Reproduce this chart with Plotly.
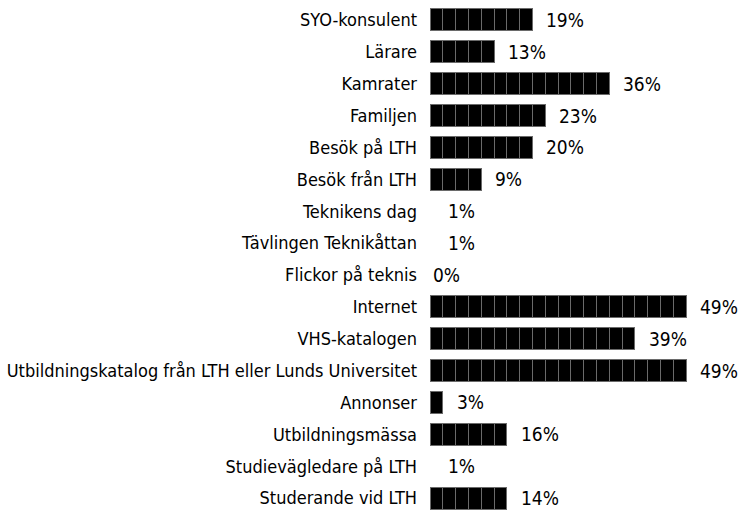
import plotly.graph_objects as go

categories = [
    "SYO-konsulent", "Lärare", "Kamrater", "Familjen", "Besök på LTH",
    "Besök från LTH", "Teknikens dag", "Tävlingen Teknikåttan", "Flickor på teknis",
    "Internet", "VHS-katalogen", "Utbildningskatalog från LTH eller Lunds Universitet",
    "Annonser", "Utbildningsmässa", "Studievägledare på LTH", "Studerande vid LTH",
]
values = [19, 13, 36, 23, 20, 9, 1, 1, 0, 49, 39, 49, 3, 16, 1, 14]
labels = [f"{v}%" for v in values]

BLOCK = 2.5  # percent represented by one block
blocks = [round(v / BLOCK) for v in values]
FONT = "DejaVu Sans Condensed, sans-serif"

fig = go.Figure()
for k in range(max(blocks)):
    fig.add_trace(go.Bar(
        y=categories,
        x=[BLOCK if b > k else None for b in blocks],
        orientation="h",
        marker=dict(color="#000000", line=dict(color="#6a6a6a", width=1)),
        hoverinfo="skip",
        showlegend=False,
    ))

for cat, v, b, lab in zip(categories, values, blocks, labels):
    if v == 0:
        shift = 1
    elif b == 0:
        shift = 16
    else:
        shift = 12
    fig.add_annotation(
        x=b * BLOCK, y=cat, text=lab, showarrow=False,
        xanchor="left", yanchor="middle", xshift=shift,
        font=dict(family=FONT, size=19, color="#000000"),
    )

plot_w = 741 - 430
fig.update_layout(
    width=741, height=514,
    margin=dict(l=430, r=0, t=4, b=0),
    barmode="stack", bargap=0.31,
    paper_bgcolor="white", plot_bgcolor="white",
    font=dict(family=FONT, size=18, color="#000000"),
)
fig.update_xaxes(range=[0, plot_w / 5.12], visible=False, fixedrange=True)
fig.update_yaxes(
    autorange="reversed", showgrid=False, zeroline=False, showline=False,
    ticks="", ticklabelstandoff=12, automargin=False,
    tickfont=dict(family=FONT, size=18, color="#000000"),
    fixedrange=True,
)

fig.write_html("out.html")
